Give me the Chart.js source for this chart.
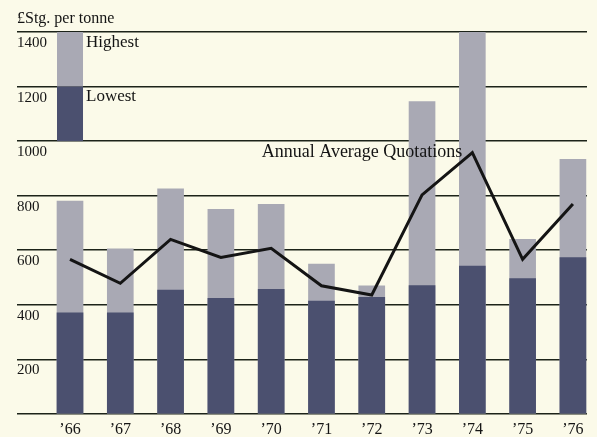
<!DOCTYPE html>
<html>
<head>
<meta charset="utf-8">
<script src="https://cdn.jsdelivr.net/npm/chart.js@4"></script>
<style>
  html, body { margin: 0; padding: 0; background: #fbfae9; }
  #wrap { width: 597px; height: 437px; }
</style>
</head>
<body>
<div id="wrap"><canvas id="c" width="597" height="437"></canvas></div>
<script>
// Price quotations, £Stg. per tonne, 1966–1976
const years = ['\u201966', '\u201967', '\u201968', '\u201969', '\u201970', '\u201971', '\u201972', '\u201973', '\u201974', '\u201975', '\u201976'];
const highest = [780, 605, 825, 750, 768, 549, 470, 1145, 1400, 640, 933];
const lowest  = [371, 371, 454, 424, 457, 414, 428, 471, 542, 496, 573];
const average = [567, 479, 640, 574, 607, 470, 436, 803, 958, 567, 770];
const yTicks = [0, 200, 400, 600, 800, 1000, 1200, 1400];

// Key bar shown at the top left: light part = highest, dark part = lowest
const keyHighest = [1200, 1400];
const keyLowest = [1000, 1200];

const LIGHT = '#a9a9b4';
const DARK = '#4b506f';
const INK = '#141414';
const SERIF = "'Liberation Serif', 'DejaVu Serif', serif";

const pts = arr => arr.map((v, i) => ({ x: i, y: v }));

const decor = {
  id: 'decor',
  beforeDraw(chart) {
    const { ctx } = chart;
    ctx.save();
    ctx.fillStyle = '#fbfae9';
    ctx.fillRect(0, 0, chart.width, chart.height);
    ctx.restore();
  },
  beforeDatasetsDraw(chart) {
    const { ctx, scales: { x, y } } = chart;
    const cx = x.getPixelForValue(0);
    const w = 26;
    ctx.save();
    ctx.fillStyle = LIGHT;
    ctx.fillRect(cx - w / 2, y.getPixelForValue(keyHighest[1]), w,
      y.getPixelForValue(keyHighest[0]) - y.getPixelForValue(keyHighest[1]));
    ctx.fillStyle = DARK;
    ctx.fillRect(cx - w / 2, y.getPixelForValue(keyLowest[1]), w,
      y.getPixelForValue(keyLowest[0]) - y.getPixelForValue(keyLowest[1]));
    ctx.fillStyle = INK;
    ctx.font = '17px ' + SERIF;
    ctx.textAlign = 'left';
    ctx.textBaseline = 'middle';
    ctx.fillText('Highest', cx + w / 2 + 3, y.getPixelForValue(keyHighest[1]) + 11);
    ctx.fillText('Lowest', cx + w / 2 + 3, y.getPixelForValue(keyLowest[1]) + 10);
    ctx.restore();
  },
  afterDraw(chart) {
    const { ctx, chartArea, scales: { x, y } } = chart;
    ctx.save();
    ctx.fillStyle = INK;
    ctx.textBaseline = 'middle';
    ctx.font = '16px ' + SERIF;
    ctx.textAlign = 'left';
    ctx.fillText('\u00a3Stg. per tonne', chartArea.left, chartArea.top - 13);
    ctx.font = '18px ' + SERIF;
    ctx.textAlign = 'right';
    ctx.fillText('Annual Average Quotations', x.getPixelForValue(8) - 10, y.getPixelForValue(average[8]));
    ctx.restore();
  }
};

new Chart(document.getElementById('c'), {
  type: 'bar',
  data: {
    datasets: [
      {
        type: 'line',
        label: 'Annual Average Quotations',
        data: pts(average),
        borderColor: INK,
        borderWidth: 3,
        pointRadius: 0,
        tension: 0,
        borderJoinStyle: 'miter',
        order: 0
      },
      {
        label: 'Lowest',
        data: pts(lowest),
        backgroundColor: DARK,
        barThickness: 26,
        grouped: false,
        order: 1
      },
      {
        label: 'Highest',
        data: pts(highest),
        backgroundColor: LIGHT,
        barThickness: 26,
        grouped: false,
        order: 2
      }
    ]
  },
  options: {
    responsive: false,
    animation: false,
    layout: { padding: { left: 17, right: 10, top: 32, bottom: 0 } },
    plugins: { legend: { display: false }, tooltip: { enabled: false } },
    scales: {
      x: {
        type: 'linear',
        offset: false,
        min: -1.054,
        max: 10.28,
        grid: { display: false },
        border: { display: false },
        afterFit(s) { s.height = 23; },
        afterBuildTicks(s) { s.ticks = years.map((_, i) => ({ value: i })); },
        ticks: {
          autoSkip: false,
          maxRotation: 0,
          padding: -2,
          color: INK,
          font: { family: SERIF, size: 16 },
          callback: v => years[v] ?? ''
        }
      },
      y: {
        min: 0,
        max: 1400,
        z: 1,
        afterFit(s) { s.width = 0; },
        afterBuildTicks(s) { s.ticks = yTicks.map(v => ({ value: v })); },
        border: { display: false },
        grid: { color: '#1c2319', lineWidth: 1.6, drawTicks: false },
        ticks: {
          mirror: true,
          padding: 0,
          labelOffset: 11,
          color: INK,
          font: { family: SERIF, size: 15 },
          callback: v => (v === 0 ? '' : String(v))
        }
      }
    }
  },
  plugins: [decor]
});
</script>
</body>
</html>
